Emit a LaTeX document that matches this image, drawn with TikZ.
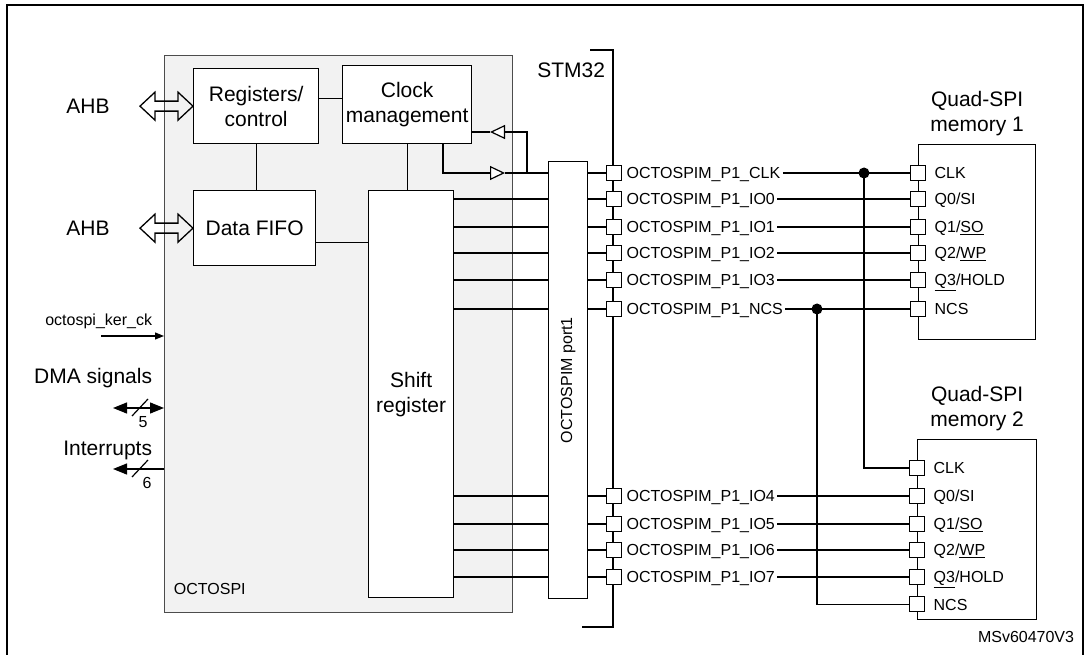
\documentclass[tikz,border=0pt]{standalone}
\usepackage{fontspec}
\setmainfont{Liberation Sans}
\usetikzlibrary{positioning,arrows.meta,calc}

\begin{document}
\begin{tikzpicture}[
    x=1pt, y=-1pt,
    line width=1.2pt,
    font=\fontsize{21}{25}\selectfont,
    >={Triangle[length=14pt, width=11pt]},
    block/.style={
        draw,
        line width=1.3pt,
        fill=white,
        inner sep=0pt,
        anchor=north west,
        align=center
    },
    unit/.style={block, draw=black!70, fill=gray!10},
    pinbox/.style={draw, fill=white, line width=1.1pt, minimum size=15pt, inner sep=0pt},
    pinlab/.style={font=\fontsize{16}{18}\selectfont, text height=11.5pt, text depth=0pt, inner sep=2pt},
    small/.style={font=\fontsize{16}{18}\selectfont},
    thinarrow/.style={-{Triangle[length=9pt, width=7pt]}},
    buffer/.style={-{Triangle[open, fill=white, length=15pt, width=14pt]}},
    chip/.style={line width=2pt},
    dot/.style={circle, fill, inner sep=0pt, minimum size=11pt}
]
\useasboundingbox (0,0) rectangle (1088,655);

% ============================================================
% FRAME
% ============================================================
\draw[line width=2.5pt] (7,670) -- (7,5) -- (1083,5) -- (1083,670);

% ============================================================
% OCTOSPI
% ============================================================
\node[unit, minimum width=348pt, minimum height=557pt] (octo) at (164,55) {};
\node[small, anchor=base west] (octolab) at ($(octo.south west)+(6,-19)$) {OCTOSPI};

\node[block, minimum width=125pt, minimum height=75pt] (regs) at (193,68) {Registers/\\control};
\node[block, minimum width=129pt, minimum height=78pt] (clkm) at (342,65) {Clock\\management};
\node[block, minimum width=122pt, minimum height=75pt] (fifo) at (193,190) {Data FIFO};
\node[block, minimum width=85pt, minimum height=407pt] (sr) at (368,190) {Shift\\register};

\draw ($(regs.north east)!0.4!(regs.south east)$) coordinate (rk) -- (rk -| clkm.west);
\draw (regs.south) -- (regs.south |- fifo.north);
\draw (clkm.south) -- (clkm.south |- sr.north);
\draw ($(fifo.north east)!0.69!(fifo.south east)$) coordinate (fk) -- (fk -| sr.west);

% bus ports on the left
\node (ahba) at (88,106) {AHB};
\node (ahbb) at (88,228) {AHB};
\foreach \tgt in {regs,fifo}
    \draw[line width=1.3pt] (\tgt.west) -- ++(-15,-14) -- ++(0,9) -- ++(-23,0) -- ++(0,-9) -- ++(-15,14)
        -- ++(15,14) -- ++(0,-9) -- ++(23,0) -- ++(0,9) -- cycle;

\node[small, anchor=east] (kcklab) at (156,321) {octospi\_ker\_ck};
\coordinate (kck) at (101,336);
\draw[thinarrow] (kck) -- (kck -| octo.west);

\node[anchor=east] (dmalab) at (156,378) {DMA signals};
\coordinate (dma) at (113,408);
\draw[<->] (dma) -- (dma -| octo.west);
\draw ($(dma)+(19,8)$) -- ++(16,-17);
\node[small] (dman) at (143,422) {5};

\node[anchor=east] (irqlab) at (156,450) {Interrupts};
\coordinate (irq) at (113,469);
\draw[->] (irq -| octo.west) -- (irq);
\draw ($(irq)+(19,8)$) -- ++(16,-17);
\node[small] (irqn) at (147,483) {6};

% ============================================================
% OCTOSPIM PORT + STM32 PINS
% ============================================================
\node[block, minimum width=39pt, minimum height=437pt] (port) at (548,161) {};
\node[small, rotate=90] (portlab) at (port.center) {OCTOSPIM port1};

\draw[chip] (590,50) -- (613,50) -- (613,627) -- (582,627);
\node[anchor=east] (stm) at (609,70) {STM32};

\foreach \nm/\yy/\sig in {clk/173/CLK, io0/199/IO0, io1/227/IO1, io2/253/IO2, io3/280/IO3,
        ncs/309/NCS, io4/496/IO4, io5/524/IO5, io6/550/IO6, io7/577/IO7}{
    \node[pinbox] (p\nm) at (614,\yy) {};
    \node[pinlab, right=2pt of p\nm] (l\nm) {OCTOSPIM\_P1\_\sig};
    \draw (port.east |- p\nm) -- (p\nm);
}
\foreach \nm in {io0,io1,io2,io3,ncs,io4,io5,io6,io7}
    \draw (sr.east |- p\nm) -- (port.west |- p\nm);

% clock out and feedback
\coordinate (ckout) at ($(clkm.south west)!0.775!(clkm.south east)$);
\coordinate (bufo) at (505,173);
\coordinate (bufi) at (490,132);
\coordinate (fbk) at (527,173);
\draw[buffer] (ckout) |- (bufo);
\draw (bufo) -- (port.west |- pclk);
\draw[buffer] (fbk) |- (bufi);
\draw (bufi) -- (clkm.east |- bufi);

% ============================================================
% MEMORIES
% ============================================================
\node[block, minimum width=117pt, minimum height=195pt] (mem1) at (918,144) {};
\node[above=4pt of mem1, align=center] (mem1lab) {Quad-SPI\\memory 1};
\node[block, minimum width=119pt, minimum height=180pt] (mem2) at (917,439) {};
\node[above=4pt of mem2, align=center] (mem2lab) {Quad-SPI\\memory 2};

\foreach \nm in {clk,io0,io1,io2,io3,ncs}
    \node[pinbox] (m1\nm) at (mem1.west |- p\nm) {};
\node[pinbox] (m2clk) at ($(mem2.north west)+(0,29)$) {};
\foreach \nm/\pp in {io0/io4, io1/io5, io2/io6, io3/io7}
    \node[pinbox] (m2\nm) at (mem2.west |- p\pp) {};
\node[pinbox] (m2ncs) at ($(mem2.south west)+(0,-16)$) {};

\foreach \mm in {m1,m2}
    \foreach \nm/\sig in {clk/CLK, io0/{Q0/SI}, io1/{Q1/\underline{SO}}, io2/{Q2/\underline{WP}},
            io3/{\underline{Q3}/HOLD}, ncs/NCS}
        \node[pinlab, right=6pt of \mm\nm] {\sig};

\foreach \nm in {clk,io0,io1,io2,io3,ncs}
    \draw (l\nm) -- (m1\nm);
\foreach \pp/\nm in {io4/io0, io5/io1, io6/io2, io7/io3}
    \draw (l\pp) -- (m2\nm);

% shared CLK and NCS
\node[dot] (jclk) at (864,173) {};
\node[dot] (jncs) at (817,309) {};
\draw (jclk.center) |- (m2clk);
\draw (jncs.center) |- (m2ncs);

\node[small, anchor=east] (ref) at (1078,637) {MSv60470V3};

\end{tikzpicture}
\end{document}
